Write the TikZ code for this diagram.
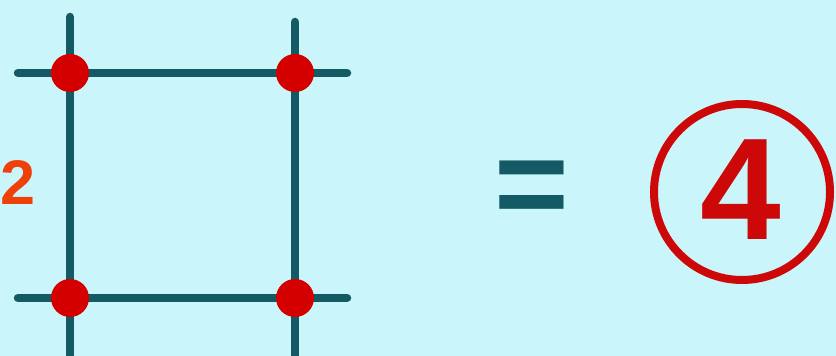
\documentclass[tikz,border=0pt]{standalone}
\usepackage{fontspec}
\setmainfont{Liberation Sans}
\definecolor{bgcyan}{RGB}{202, 246, 251}
\definecolor{gridteal}{RGB}{20, 90, 100}
\definecolor{dotred}{RGB}{212, 0, 0}
\definecolor{numorange}{RGB}{240, 64, 10}
\definecolor{ansred}{RGB}{204, 8, 8}
\usetikzlibrary{positioning}

\tikzset{
  gridline/.style={line width=8.5pt, gridteal, line cap=round},
  corner/.style={circle, fill=dotred, inner sep=0pt, minimum size=38pt}
}

\begin{document}
\begin{tikzpicture}[x=1pt, y=1pt]
  \fill[bgcyan] (0,0) rectangle (836,356);
  \useasboundingbox (0,0) rectangle (836,356);

  % ends of the grid lines
  \coordinate (lt) at (70,339);  \coordinate (lb) at (70,-10);
  \coordinate (rt) at (295,334); \coordinate (rb) at (295,-10);
  \coordinate (tw) at (18,283);  \coordinate (te) at (347,283);
  \coordinate (bw) at (18,58);   \coordinate (be) at (347,58);

  \draw[gridline] (lt) -- (lb);
  \draw[gridline] (rt) -- (rb);
  \draw[gridline] (tw) -- (te);
  \draw[gridline] (bw) -- (be);

  \node[corner] (tl) at (70,283) {};
  \node[corner] (tr) at (295,283) {};
  \node[corner] (bl) at (70,58) {};
  \node[corner] (br) at (295,58) {};

  \node[inner sep=0pt, text=numorange, font=\fontsize{63}{63}\selectfont\bfseries] (side) at (18,173) {2};

  \node[inner sep=0pt, text=gridteal, font=\fontsize{128}{128}\selectfont\bfseries] (eq) at (532,162) {=};
  \node[draw=ansred, line width=8pt, circle, minimum size=176pt, inner sep=0pt] (ring) at (742,164) {};
  \node[inner sep=0pt, text=ansred, font=\fontsize{145}{145}\selectfont\bfseries] (ans) at (741,166) {4};
\end{tikzpicture}
\end{document}
